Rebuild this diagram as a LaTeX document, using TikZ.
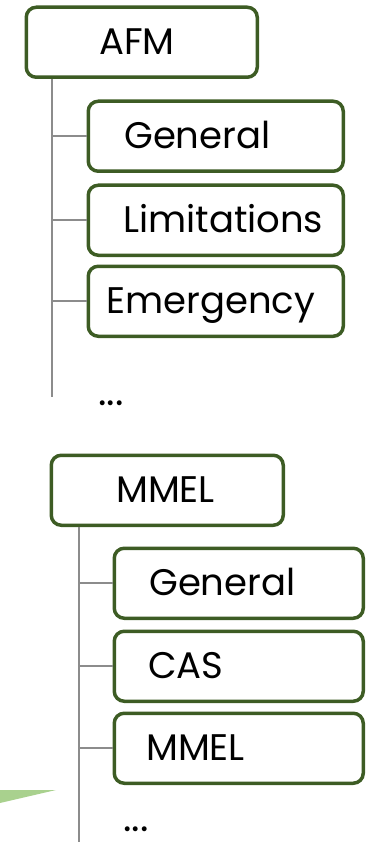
\documentclass[tikz,border=0pt]{standalone}
\usepackage{fontspec}
\setmainfont{Poppins}
\usetikzlibrary{calc}
\definecolor{boxgreen}{HTML}{3D5C24}
\definecolor{linegray}{HTML}{8C8C8C}
\definecolor{wedge}{HTML}{A9D18E}
\tikzset{
  topbox/.style={draw=boxgreen, line width=3.5pt, rounded corners=10pt, fill=white,
    inner sep=0pt, minimum height=70pt, text height=25pt, text depth=0pt,
    anchor=north west, font=\fontsize{37}{40}\selectfont},
  conn/.style={draw=linegray, line width=2pt},
  dots/.style={inner sep=0pt, anchor=base west, font=\fontsize{40}{40}\selectfont}
}
\begin{document}
\begin{tikzpicture}[x=1pt,y=1pt]
\useasboundingbox (0,0) rectangle (365,-842);
% wedge
\fill[wedge] (0,-790) -- (56,-790) -- (0,-803) -- cycle;
% AFM tree
\node[topbox] (afm) at (24.5,-5.5) {\makebox[231pt][l]{\hspace{73pt}AFM}};
\node[topbox] (gen1) at (86.5,-99.5) {\makebox[255pt][l]{\hspace{36pt}General}};
\node[topbox] (lim) at (86.5,-183.5) {\makebox[255pt][l]{\hspace{35pt}Limitations}};
\node[topbox] (emg) at (86.5,-264.5) {\makebox[255pt][l]{\hspace{18pt}Emergency}};
\coordinate (afmend) at (52,-397);
\draw[conn] (afm.south -| afmend) -- (afmend);
\draw[conn] (gen1.west -| afmend) -- (gen1.west);
\draw[conn] (lim.west -| afmend) -- (lim.west);
\draw[conn] (emg.west -| afmend) -- (emg.west);
\node[dots] (dots1) at (98,-405) {...};
% MMEL tree
\node[topbox] (mmel) at (49.5,-453.5) {\makebox[232pt][l]{\hspace{65pt}MMEL}};
\node[topbox] (gen2) at (112.5,-546.5) {\makebox[249pt][l]{\hspace{35pt}General}};
\node[topbox] (cas) at (112.5,-629.5) {\makebox[249pt][l]{\hspace{34pt}CAS}};
\node[topbox] (mmel2) at (112.5,-711.5) {\makebox[249pt][l]{\hspace{32pt}MMEL}};
\coordinate (mmelend) at (79,-842);
\draw[conn] (mmel.south -| mmelend) -- (mmelend);
\draw[conn] (gen2.west -| mmelend) -- (gen2.west);
\draw[conn] (cas.west -| mmelend) -- (cas.west);
\draw[conn] (mmel2.west -| mmelend) -- (mmel2.west);
\node[dots] (dots2) at (123,-831) {...};
\end{tikzpicture}
\end{document}
